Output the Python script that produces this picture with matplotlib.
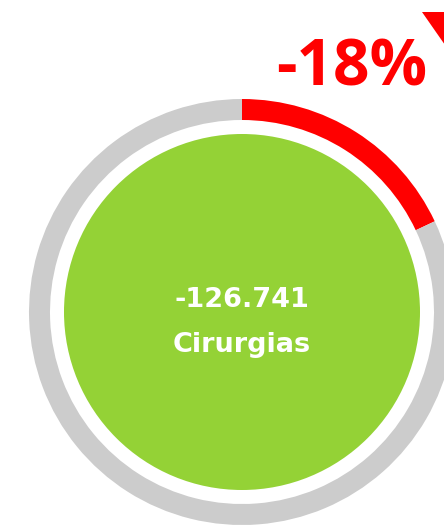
import matplotlib
matplotlib.use("Agg")
import matplotlib.pyplot as plt
from matplotlib.patches import Circle, Polygon

# dados
variacao_pct = 18          # queda percentual (mostrada como -18%)
total = -126741
rotulo = "Cirurgias"
texto_pct = "-18%"

plt.rcParams['font.family'] = ['Open Sans', 'DejaVu Sans']

fig = plt.figure(figsize=(4.44, 5.25), dpi=100)
ax = fig.add_axes([0, 0, 1, 1])

cx, cy = 242, 213

# anel: vermelho = variacao, cinza = resto
ax.pie([variacao_pct, 100 - variacao_pct], colors=['#FF0000', '#CCCCCC'],
       startangle=90, counterclock=False, radius=213, center=(cx, cy),
       wedgeprops=dict(width=21, linewidth=0), frame=True)
ax.set_xlim(0, 444)
ax.set_ylim(0, 525)
ax.axis('off')

# circulo verde
ax.add_patch(Circle((cx, cy), 178, color='#94D236', lw=0))

# texto central
valor = f"{total:,}".replace(",", ".")
ax.text(cx, 218, valor, color='white', fontsize=19.5, fontweight='bold',
        family='DejaVu Sans', ha='center', va='baseline')
ax.text(cx, 173, rotulo, color='white', fontsize=19.5, fontweight='bold',
        family='DejaVu Sans', ha='center', va='baseline')

# percentual e seta
ax.text(352, 440, texto_pct, color='#FF0000', fontsize=46, fontweight='bold',
        ha='center', va='baseline')
ax.add_patch(Polygon([[422, 513], [468, 513], [445, 480]], closed=True,
                     color='#FF0000', lw=0))

fig.savefig('out.png', dpi=100)
